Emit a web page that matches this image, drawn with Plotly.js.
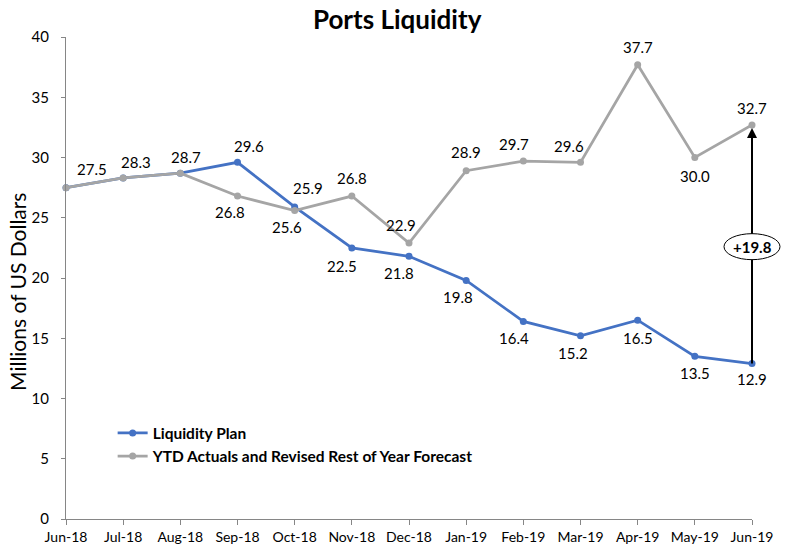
<!DOCTYPE html>
<html>
<head>
<meta charset="utf-8">
<script src="https://cdn.plot.ly/plotly-3.0.1.min.js"></script>
<style>html,body{margin:0;padding:0;background:#fff;}#chart{width:788px;height:548px;}</style>
</head>
<body>
<div id="chart"></div>
<script>
const months = ["Jun-18","Jul-18","Aug-18","Sep-18","Oct-18","Nov-18","Dec-18","Jan-19","Feb-19","Mar-19","Apr-19","May-19","Jun-19"];
const planValues = [27.5,28.3,28.7,29.6,25.9,22.5,21.8,19.8,16.4,15.2,16.5,13.5,12.9];
const actualValues = [27.5,28.3,28.7,26.8,25.6,26.8,22.9,28.9,29.7,29.6,37.7,30.0,32.7];
const seriesNames = ["Liquidity Plan","YTD Actuals and Revised Rest of Year Forecast"];
const yTicks = [0,5,10,15,20,25,30,35,40];
const gapLabel = "+19.8";

// label offsets in pixels (style only)
const planOffsets = [null,null,null,[11,-16],[13,-19],[-10,18],[-10,17],[-8,17],[-9,17],[-8,17],[0,18],[0,17],[0,15]];
const actualOffsets = [[26,-19],[13,-16],[6,-16],[-8,16],[-8,16],[0,-18],[-8,-18],[0,-19],[-9,-17],[-12,-16],[0,-18],[0,18],[0,-17]];

const idx = months.map((m,i)=>i);
const blue = "#4472C4", gray = "#A5A5A5";
const font = "Lato, 'Open Sans', sans-serif";
const yMax = 40;

const traces = [
  {x: idx, y: planValues, name: seriesNames[0], type: "scatter", mode: "lines+markers",
   line: {color: blue, width: 2.75}, marker: {color: blue, size: 7}, cliponaxis: false},
  {x: idx, y: actualValues, name: seriesNames[1], type: "scatter", mode: "lines+markers",
   line: {color: gray, width: 2.75}, marker: {color: gray, size: 7}, cliponaxis: false}
];

const annotations = [];
function addLabels(vals, offs) {
  vals.forEach((v,i)=>{
    if (!offs[i]) return;
    annotations.push({x: i, y: v, xref: "x", yref: "y", text: v.toFixed(1), showarrow: false,
      xshift: offs[i][0], yshift: -offs[i][1], font: {family: font, size: 15, color: "#000"}});
  });
}
addLabels(planValues, planOffsets);
addLabels(actualValues, actualOffsets);

const last = months.length - 1;
const midY = 22.6;
// arrowhead
annotations.push({x: last, y: actualValues[last], xref: "x", yref: "y", ax: last, ay: actualValues[last] - 4,
  axref: "x", ayref: "y", showarrow: true, arrowhead: 2, arrowsize: 1, arrowwidth: 2, arrowcolor: "#000",
  standoff: 3, text: ""});
annotations.push({x: 1, y: midY / yMax, xref: "paper", yref: "paper", text: "<b>" + gapLabel + "</b>", showarrow: false,
  xanchor: "center", yanchor: "middle", font: {family: font, size: 15, color: "#000"}});
// y axis title
annotations.push({x: -0.07, y: 0.471, xref: "paper", yref: "paper", xanchor: "center", yanchor: "middle",
  text: "Millions of US Dollars", textangle: -90,
  showarrow: false, font: {family: font, size: 21, color: "#000"}});

const shapes = [
  {type: "line", xref: "paper", yref: "paper", x0: 1, x1: 1, y0: planValues[last] / yMax, y1: (actualValues[last] - 1) / yMax,
   line: {color: "#000", width: 2}, layer: "above"},
  {type: "circle", xref: "paper", yref: "paper", xsizemode: "pixel", ysizemode: "pixel", xanchor: 1, yanchor: midY / yMax,
   x0: -28, x1: 28, y0: -13, y1: 13, fillcolor: "#fff", line: {color: "#000", width: 1}, layer: "above"}
];

const layout = {
  width: 788, height: 548,
  margin: {l: 66, r: 36, t: 37, b: 29},
  paper_bgcolor: "#fff", plot_bgcolor: "#fff",
  font: {family: font, color: "#000"},
  title: {text: "<b>Ports Liquidity</b>", x: 0.504, xanchor: "center", y: 0.963, yanchor: "middle",
    font: {family: font, size: 26, color: "#000"}},
  xaxis: {range: [0, last], tickmode: "array", tickvals: idx, ticktext: months, showgrid: false, zeroline: false,
    showline: true, linecolor: "#868686", linewidth: 1, ticks: "outside", ticklen: 5, tickcolor: "#868686",
    tickfont: {family: font, size: 14, color: "#000"}, fixedrange: true},
  yaxis: {range: [0, yMax], tickmode: "array", tickvals: yTicks, showgrid: false, zeroline: false,
    showline: true, linecolor: "#868686", linewidth: 1, ticks: "outside", ticklen: 4, tickcolor: "#868686",
    ticklabelstandoff: 9, tickfont: {family: font, size: 15, color: "#000"}, fixedrange: true},
  showlegend: true,
  legend: {x: 0.068, y: 0.213, xanchor: "left", yanchor: "top", bgcolor: "rgba(0,0,0,0)",
    font: {family: font, size: 15.5, color: "#000", weight: "bold"}, tracegroupgap: 0},
  annotations: annotations,
  shapes: shapes
};

Plotly.newPlot("chart", traces, layout, {displayModeBar: false, staticPlot: true});
</script>
</body>
</html>
